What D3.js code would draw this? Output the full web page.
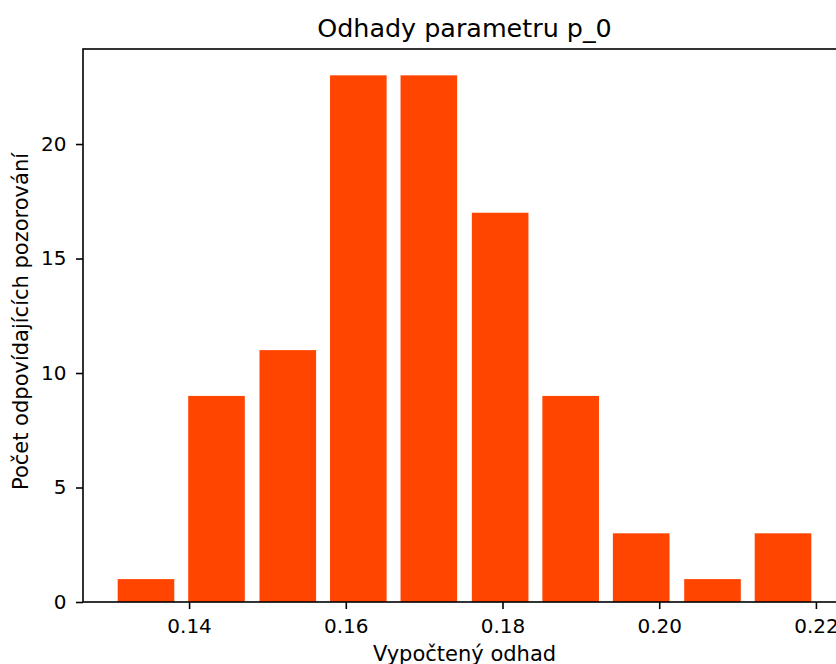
<!DOCTYPE html>
<html>
<head>
<meta charset="utf-8">
<script src="https://cdn.jsdelivr.net/npm/d3@7"></script>
<style>
  body { margin: 0; background: #fff; }
  svg { display: block; font-family: "DejaVu Sans", sans-serif; }
</style>
</head>
<body>
<div id="chart-area"></div>
<script>
// histogram bins (centres) and counts
const binCenters = [0.1345, 0.1435, 0.1526, 0.1616, 0.1706, 0.1797, 0.1887, 0.1977, 0.2068, 0.2158]
const counts = [1, 9, 11, 23, 23, 17, 9, 3, 1, 3]
const binWidth = 0.00903
const xTicks = [0.14, 0.16, 0.18, 0.20, 0.22]
const yTicks = [0, 5, 10, 15, 20]

const MARGIN = { LEFT: 83, TOP: 49 }
const WIDTH = 763
const HEIGHT = 553

const svg = d3.select('#chart-area').append('svg')
  .attr('width', 836)
  .attr('height', 664)

const g = svg.append('g')
  .attr('transform', `translate(${MARGIN.LEFT}, ${MARGIN.TOP})`)

const barW = binWidth * 0.8
const lo = binCenters[0] - barW / 2
const hi = binCenters[binCenters.length - 1] + barW / 2
const pad = (hi - lo) * 0.05

const x = d3.scaleLinear()
  .domain([lo - pad, hi + pad])
  .range([0, WIDTH])

const y = d3.scaleLinear()
  .domain([0, d3.max(counts) * 1.05])
  .range([HEIGHT, 0])

// bars
g.selectAll('rect.bar').data(binCenters)
  .enter()
  .append('rect')
  .attr('class', 'bar')
  .attr('x', d => x(d - barW / 2))
  .attr('y', (d, i) => y(counts[i]))
  .attr('width', d => x(d + barW / 2) - x(d - barW / 2))
  .attr('height', (d, i) => HEIGHT - y(counts[i]))
  .attr('fill', '#ff4500')

// axes
const xAxisCall = d3.axisBottom(x)
  .tickValues(xTicks)
  .tickFormat(d3.format('.2f'))
  .tickSizeInner(7)
  .tickSizeOuter(0)
  .tickPadding(9.5)
const xAxis = g.append('g')
  .attr('transform', `translate(0, ${HEIGHT})`)
  .call(xAxisCall)

const yAxisCall = d3.axisLeft(y)
  .tickValues(yTicks)
  .tickSizeInner(7)
  .tickSizeOuter(0)
  .tickPadding(9.5)
const yAxis = g.append('g').call(yAxisCall)

for (const ax of [xAxis, yAxis]) {
  ax.select('.domain').remove()
  ax.selectAll('line').attr('stroke', '#000').attr('stroke-width', 1.6)
  ax.selectAll('text')
    .attr('fill', '#000')
    .attr('font-size', '20px')
    .attr('font-family', '"DejaVu Sans", sans-serif')
}

// frame
g.append('rect')
  .attr('x', 0)
  .attr('y', 0)
  .attr('width', WIDTH)
  .attr('height', HEIGHT)
  .attr('fill', 'none')
  .attr('stroke', '#000')
  .attr('stroke-width', 1.6)

// title
g.append('text')
  .attr('x', WIDTH / 2)
  .attr('y', 37 - MARGIN.TOP)
  .attr('text-anchor', 'middle')
  .attr('font-size', '25.4px')
  .text('Odhady parametru p_0')

// x label
g.append('text')
  .attr('x', WIDTH / 2)
  .attr('y', 660.5 - MARGIN.TOP)
  .attr('text-anchor', 'middle')
  .attr('font-size', '21px')
  .text('Vypočtený odhad')

// y label
g.append('text')
  .attr('transform', `translate(${28 - MARGIN.LEFT}, ${HEIGHT / 2 - 4}) rotate(-90)`)
  .attr('text-anchor', 'middle')
  .attr('font-size', '21px')
  .text('Počet odpovídajících pozorování')
</script>
</body>
</html>
